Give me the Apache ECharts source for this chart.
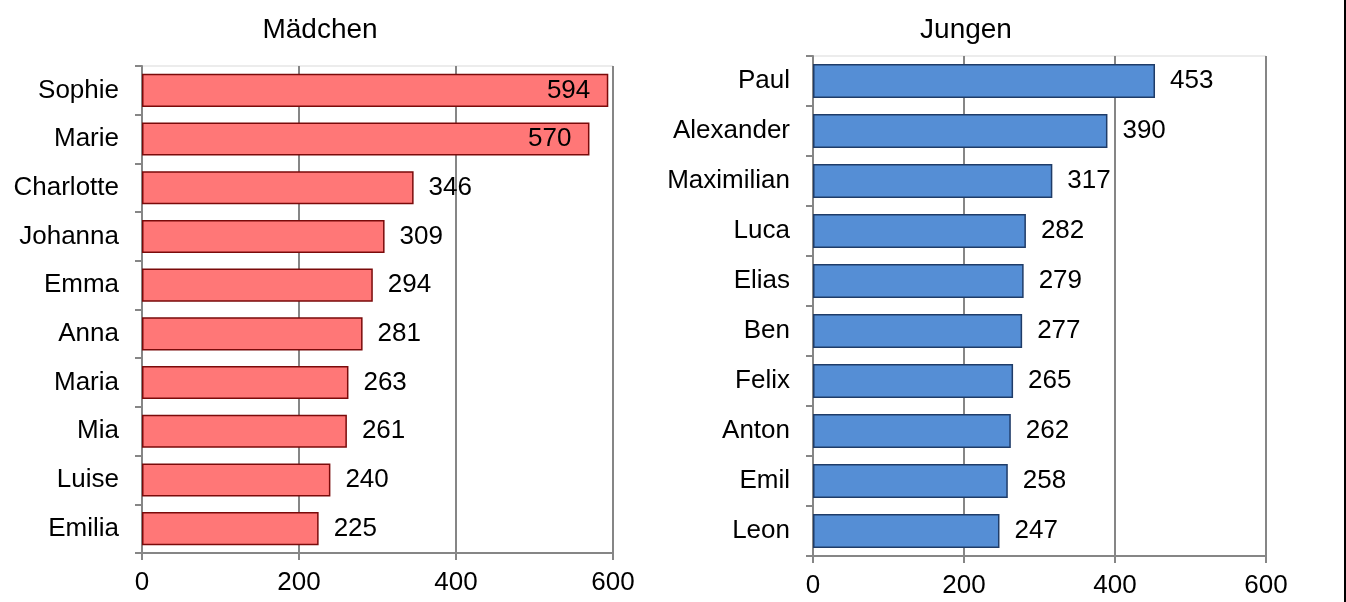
<!DOCTYPE html>
<html>
<head>
<meta charset="utf-8">
<script src="https://cdn.jsdelivr.net/npm/echarts@6/dist/echarts.min.js"></script>
<style>
  html, body { margin: 0; padding: 0; background: #fff; }
  #chart { width: 1346px; height: 602px; }
</style>
</head>
<body>
<div id="chart"></div>
<script>
var girlNames = ['Sophie', 'Marie', 'Charlotte', 'Johanna', 'Emma', 'Anna', 'Maria', 'Mia', 'Luise', 'Emilia'];
var girlCounts = [594, 570, 346, 309, 294, 281, 263, 261, 240, 225];
var boyNames = ['Paul', 'Alexander', 'Maximilian', 'Luca', 'Elias', 'Ben', 'Felix', 'Anton', 'Emil', 'Leon'];
var boyCounts = [453, 390, 317, 282, 279, 277, 265, 262, 258, 247];

(function () {
    var chartDom = document.getElementById('chart');
    var myChart = echarts.init(chartDom);
    var font = 'Liberation Sans, Arial, sans-serif';

    function xAxisFor(idx) {
        return {
            gridIndex: idx,
            type: 'value',
            min: 0,
            max: 600,
            interval: 200,
            axisLine: { show: true, lineStyle: { color: '#868686', width: 2 } },
            axisTick: { show: true, length: 7, lineStyle: { color: '#868686', width: 2 } },
            axisLabel: { fontSize: 26, color: '#000', fontFamily: font, margin: 17 },
            splitLine: { show: true, lineStyle: { color: '#868686', width: 2 } }
        };
    }

    function yAxisFor(idx, names) {
        return {
            gridIndex: idx,
            type: 'category',
            inverse: true,
            data: names,
            axisLine: { show: true, lineStyle: { color: '#868686', width: 2 } },
            axisTick: { show: true, length: 7, lineStyle: { color: '#868686', width: 2 } },
            axisLabel: { fontSize: 26, color: '#000', fontFamily: font, margin: 23 }
        };
    }

    function barData(values) {
        // Werte nahe am Maximum stehen innen am Balkenende
        return values.map(function (v) {
            if (v > 500) {
                return { value: v, label: { position: 'insideRight', distance: 18 } };
            }
            return v;
        });
    }

    var option = {
        animation: false,
        backgroundColor: '#fff',
        title: [
            { text: 'Mädchen', left: 315, top: 11, textAlign: 'center',
              textStyle: { fontSize: 28, fontWeight: 'normal', color: '#000', fontFamily: font } },
            { text: 'Jungen', left: 961, top: 11, textAlign: 'center',
              textStyle: { fontSize: 28, fontWeight: 'normal', color: '#000', fontFamily: font } }
        ],
        grid: [
            { left: 142, right: 733, top: 66, bottom: 49, show: true, borderColor: '#d9d9d9', borderWidth: 1 },
            { left: 813, right: 80, top: 56, bottom: 46, show: true, borderColor: '#d9d9d9', borderWidth: 1 }
        ],
        xAxis: [xAxisFor(0), xAxisFor(1)],
        yAxis: [yAxisFor(0, girlNames), yAxisFor(1, boyNames)],
        series: [
            {
                name: 'Mädchen',
                type: 'bar',
                xAxisIndex: 0,
                yAxisIndex: 0,
                barCategoryGap: '32%',
                data: barData(girlCounts),
                itemStyle: { color: '#ff7777', borderColor: '#7a0a0a', borderWidth: 1.5 },
                label: { show: true, position: 'right', distance: 15, fontSize: 26, color: '#000', fontFamily: font }
            },
            {
                name: 'Jungen',
                type: 'bar',
                xAxisIndex: 1,
                yAxisIndex: 1,
                barCategoryGap: '32%',
                data: barData(boyCounts),
                itemStyle: { color: '#558ed5', borderColor: '#1f3c68', borderWidth: 1.5 },
                label: { show: true, position: 'right', distance: 15, fontSize: 26, color: '#000', fontFamily: font }
            }
        ],
        graphic: [
            { type: 'rect', shape: { x: 1344, y: 0, width: 2, height: 602 }, style: { fill: '#000' } }
        ]
    };

    myChart.setOption(option);
    window.addEventListener('resize', function () {
        myChart.resize();
    });
})();
</script>
</body>
</html>
